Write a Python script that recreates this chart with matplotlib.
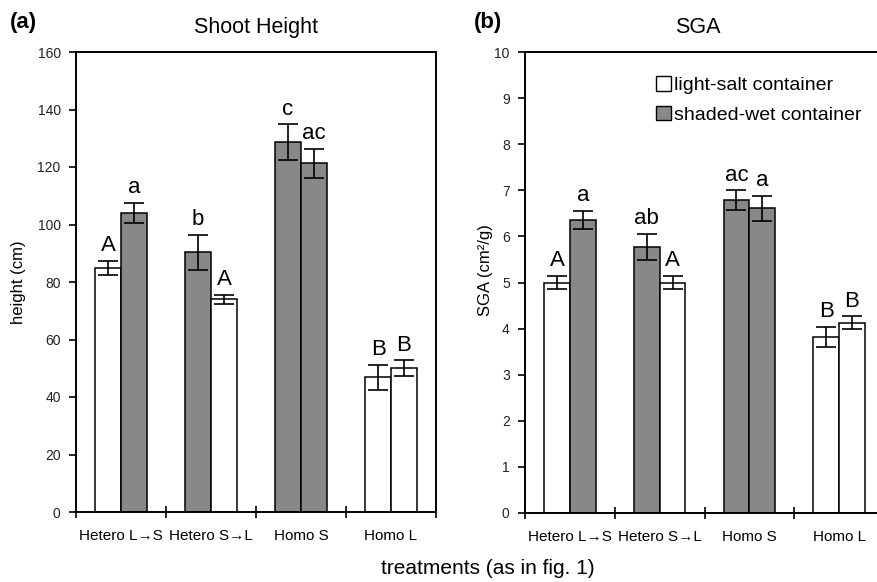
import numpy as np
import matplotlib
matplotlib.use("Agg")
import matplotlib.pyplot as plt
from matplotlib.patches import Patch

plt.rcParams["font.family"] = ["Liberation Sans", "DejaVu Sans"]

treatments = ["Hetero L\u2192S", "Hetero S\u2192L", "Homo S", "Homo L"]

# container of the first and second bar in every treatment pair
first_container = ["light", "shaded", "shaded", "light"]
second_container = ["shaded", "light", "shaded", "light"]

height_first = [85.0, 90.4, 128.6, 46.8]
height_second = [104.0, 74.0, 121.3, 50.0]
height_err_first = [2.4, 6.1, 6.2, 4.4]
height_err_second = [3.6, 1.6, 5.1, 2.7]
height_letters_first = ["A", "b", "c", "B"]
height_letters_second = ["a", "A", "ac", "B"]

sga_first = [5.0, 5.77, 6.79, 3.82]
sga_second = [6.36, 5.0, 6.61, 4.13]
sga_err_first = [0.14, 0.28, 0.21, 0.21]
sga_err_second = [0.19, 0.14, 0.27, 0.135]
sga_letters_first = ["A", "ab", "ac", "B"]
sga_letters_second = ["a", "A", "a", "B"]

colors = {"light": "white", "shaded": "#888888"}
legend_names = {"light": "light-salt container", "shaded": "shaded-wet container"}

W, H = 877, 582
fig = plt.figure(figsize=(W / 100, H / 100), dpi=100)

# axes in pixel terms of the reference
ax1 = fig.add_axes([76 / W, 1 - 512 / H, 360 / W, 460 / H])
ax2 = fig.add_axes([525 / W, 1 - 513 / H, 359 / W, 461 / H])

bw = 0.287


def draw_panel(ax, v1, v2, e1, e2, l1, l2, ymax, ystep):
    x = np.arange(len(treatments)) + 0.5
    ekw = dict(elinewidth=1.2, capthick=1.2, capsize=7, ecolor="black")
    ax.bar(x - bw / 2, v1, bw, yerr=e1, color=[colors[c] for c in first_container],
           edgecolor="black", linewidth=1.1, error_kw=ekw, zorder=2)
    ax.bar(x + bw / 2, v2, bw, yerr=e2, color=[colors[c] for c in second_container],
           edgecolor="black", linewidth=1.1, error_kw=ekw, zorder=2)
    for xs, vals, errs, labs in [(x - bw / 2, v1, e1, l1), (x + bw / 2, v2, e2, l2)]:
        for xi, v, e, lab in zip(xs, vals, errs, labs):
            ax.annotate(lab, (xi, v + e), xytext=(0, 7), textcoords="offset points",
                        ha="center", va="baseline", fontsize=16)
    ax.set_xlim(0, len(treatments))
    ax.set_ylim(0, ymax)
    ax.set_yticks(np.arange(0, ymax + ystep / 2, ystep))
    ax.set_xticks(x)
    ax.set_xticklabels(treatments, fontsize=11)
    ax.set_xticks(np.arange(len(treatments) + 1), minor=True)
    ax.tick_params(axis="x", which="major", length=0, pad=12)
    ax.tick_params(axis="x", which="minor", direction="inout", length=9, width=1.2)
    ax.tick_params(axis="y", direction="out", length=5, width=1.2, labelsize=10, pad=6,
                   labelcolor="#222222")
    for s in ax.spines.values():
        s.set_linewidth(1.4)


draw_panel(ax1, height_first, height_second, height_err_first, height_err_second,
           height_letters_first, height_letters_second, 160, 20)
draw_panel(ax2, sga_first, sga_second, sga_err_first, sga_err_second,
           sga_letters_first, sga_letters_second, 10, 1)

ax1.set_title("Shoot Height", fontsize=15.5, pad=14)
ax2.set_title("SGA", fontsize=15.5, pad=14, x=0.482)

ax1.set_ylabel("height (cm)", fontsize=12)
ax1.yaxis.set_label_coords(-0.14, 0.5)
ax2.set_ylabel("SGA (cm\u00b2/g)", fontsize=12)
ax2.yaxis.set_label_coords(-0.09, 0.527)

handles = [Patch(facecolor=colors[k], edgecolor="black", linewidth=1.0, label=legend_names[k])
           for k in ["light", "shaded"]]
ax2.legend(handles=handles, loc="upper left", bbox_to_anchor=(0.365, 0.947), frameon=False,
           fontsize=14, handlelength=0.75, handleheight=0.75, handletextpad=0.15,
           labelspacing=0.6, borderpad=0, borderaxespad=0)

fig.text(10 / W, 1 - 12 / H, "(a)", fontsize=16, fontweight="bold", va="top", ha="left")
fig.text(474 / W, 1 - 12 / H, "(b)", fontsize=16, fontweight="bold", va="top", ha="left")
fig.text(488 / W, 1 - 574 / H, "treatments (as in fig. 1)", fontsize=15, ha="center", va="baseline")

fig.savefig("out.png", dpi=100)
